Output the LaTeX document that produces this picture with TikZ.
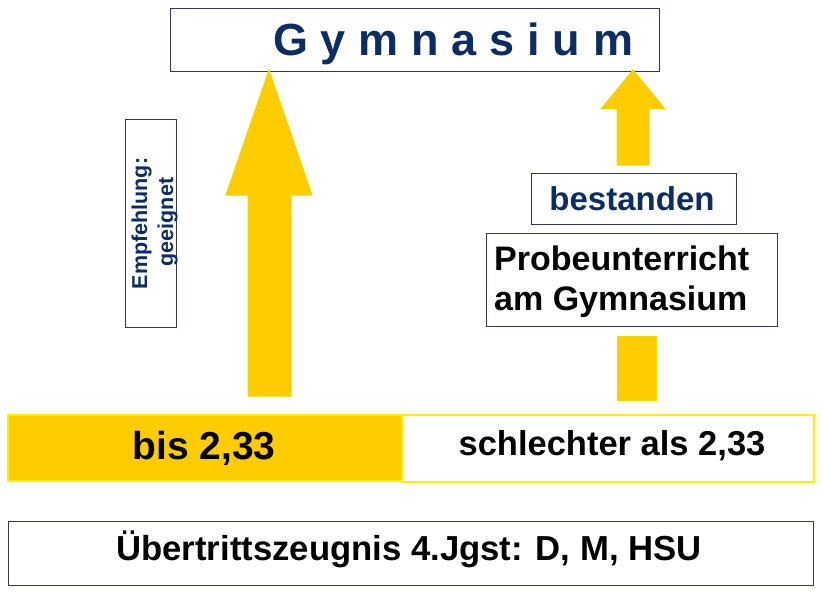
\documentclass[tikz,border=0pt]{standalone}
\usepackage{fontspec}
\setmainfont{Liberation Sans}
\definecolor{gold}{HTML}{FFCC00}
\definecolor{goldline}{HTML}{E8DC00}
\definecolor{barline}{HTML}{FFF200}
\definecolor{navy}{HTML}{35355F}
\definecolor{txtblue}{HTML}{0C2D63}
\newcommand{\gsp}{\hspace{12.8pt}}
\begin{document}
\begin{tikzpicture}[x=1pt,y=-1pt,
  box/.style={draw=navy,line width=1.3pt,fill=white,inner sep=0pt,anchor=north west},
  bar/.style={draw=barline,line width=1.5pt,inner sep=0pt,anchor=north west},
  blockarrow/.style={fill=gold,draw=goldline,line width=1pt,line join=miter},
  lbl/.style={inner sep=0pt,anchor=base,font=\bfseries}]
\useasboundingbox (0,0) rectangle (823,594);
% boxes
\node[box,minimum width=489pt,minimum height=63pt] (gym) at (170,8) {};
\node[box,minimum width=51pt,minimum height=208pt] (empf) at (125,119) {};
\node[box,minimum width=205pt,minimum height=51pt] (best) at (531,173) {};
\node[box,minimum width=291pt,minimum height=93pt] (probe) at (486,233) {};
\node[bar,fill=gold,minimum width=394pt,minimum height=66pt] (bar1) at (7,414) {};
\node[bar,fill=white,minimum width=412pt,minimum height=67pt] (bar2) at (401,414) {};
\node[box,minimum width=805pt,minimum height=64pt] (zeug) at (8,521) {};
% arrows
\draw[blockarrow] (248,396) -- (248,195) -- (226,195) -- (269,70) -- (312,195) -- (291,195) -- (291,396) -- cycle;
\draw[blockarrow] (617,165) -- (617,109) -- (601,109) -- (633,70) -- (665,109) -- (649,109) -- (649,165) -- cycle;
\draw[blockarrow] (617,336) rectangle (656,400);
% texts
\node[lbl,anchor=base west,text=txtblue,font=\fontsize{45}{50}\selectfont\bfseries] (tgym) at (273,56)
  {G\gsp y\gsp m\gsp n\gsp a\gsp s\gsp i\gsp u\gsp m};
\node[lbl,rotate=90,text=txtblue,font=\fontsize{21.5}{24}\selectfont\bfseries] (t1) at (147,223.5) {Empfehlung:};
\node[lbl,rotate=90,text=txtblue,font=\fontsize{21.5}{24}\selectfont\bfseries] (t2) at (173,222) {geeignet};
\node[lbl,text=txtblue,font=\fontsize{33}{38}\selectfont\bfseries] (tbest) at (632,210) {bestanden};
\node[lbl,anchor=base west,font=\fontsize{34}{40}\selectfont\bfseries] (tp1) at (494,270) {Probeunterricht};
\node[lbl,anchor=base west,font=\fontsize{34}{40}\selectfont\bfseries] (tp2) at (494,310) {am Gymnasium};
\node[lbl,font=\fontsize{39}{44}\selectfont\bfseries] (tbis) at (204,459) {bis 2,33};
\node[lbl,font=\fontsize{34.5}{40}\selectfont\bfseries] (tschl) at (612,455) {schlechter als 2,33};
\node[lbl,font=\fontsize{34.7}{40}\selectfont\bfseries] (tzeug) at (409,560) {Übertrittszeugnis 4.Jgst: D, M, HSU};
\end{tikzpicture}
\end{document}
